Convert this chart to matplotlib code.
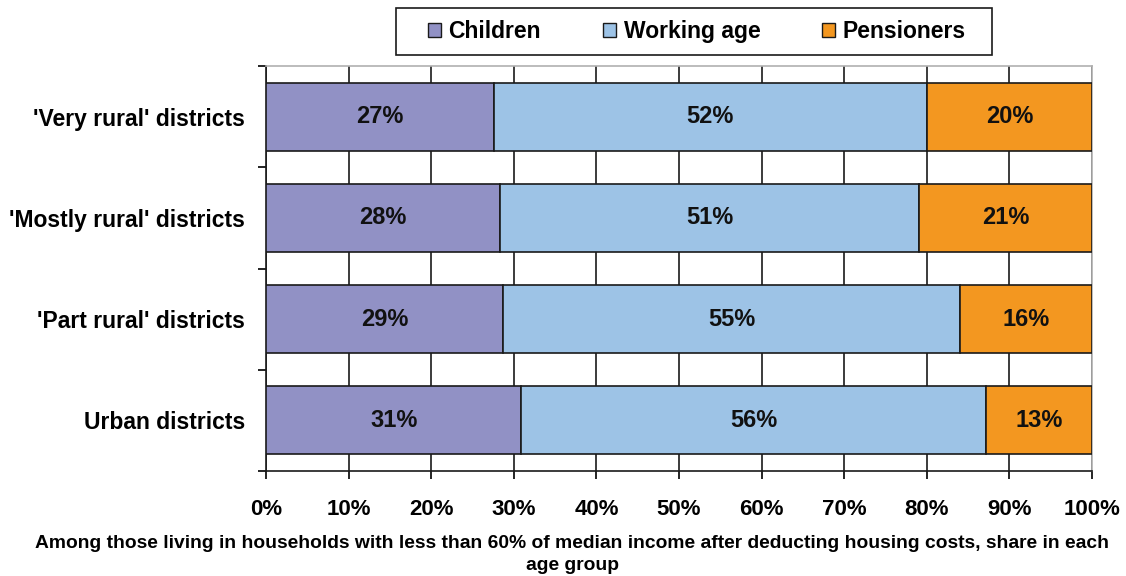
import numpy as np
import matplotlib
matplotlib.use("Agg")
import matplotlib.pyplot as plt
from matplotlib.patches import Patch, Rectangle

plt.rcParams["font.family"] = ["Liberation Sans", "DejaVu Sans"]
plt.rcParams["font.weight"] = "bold"

# ---------------------------------------------------------------------------
# Data (shares of low-income population by age group, %)
# ---------------------------------------------------------------------------
DISTRICTS = ["'Very rural' districts", "'Mostly rural' districts",
             "'Part rural' districts", "Urban districts"]
GROUPS = ["Children", "Working age", "Pensioners"]
CHILDREN = [27.6, 28.3, 28.7, 30.9]
WORKING = [52.4, 50.8, 55.3, 56.3]
PENSIONERS = [20.0, 20.9, 16.0, 12.8]
LABELS = [["27%", "28%", "29%", "31%"],
          ["52%", "51%", "55%", "56%"],
          ["20%", "21%", "16%", "13%"]]
XTICKS = [0, 10, 20, 30, 40, 50, 60, 70, 80, 90, 100]

COLORS = ["#9191C5", "#9DC3E6", "#F39720"]

fig = plt.figure(figsize=(11.26, 5.76), dpi=100)
ax = fig.add_axes([266 / 1126, 1 - 471 / 576, 826 / 1126, 405 / 576])

y = np.arange(len(DISTRICTS))
left = np.zeros(len(DISTRICTS))
for vals, col, labs in zip([CHILDREN, WORKING, PENSIONERS], COLORS, LABELS):
    vals = np.array(vals)
    ax.barh(y, vals, left=left, height=0.67, color=col,
            edgecolor="#1a1a1a", linewidth=1.2, zorder=3)
    for yi, l, v, t in zip(y, left, vals, labs):
        ax.text(l + v / 2, yi, t, ha="center", va="center",
                fontsize=17, fontweight="bold", color="#111111", zorder=4)
    left += vals

ax.set_xlim(0, 100)
ax.set_ylim(len(DISTRICTS) - 0.5, -0.5)

ax.set_xticks(XTICKS)
ax.set_xticklabels([f"{v}%" for v in XTICKS], fontsize=16, fontweight="bold")
ax.tick_params(axis="x", direction="out", length=6, width=1.2, pad=14)
ax.xaxis.grid(True, color="#1a1a1a", linewidth=1.2, zorder=0)
ax.set_axisbelow(True)

ax.set_yticks(np.arange(len(DISTRICTS) + 1) - 0.5)
ax.set_yticklabels([])
ax.tick_params(axis="y", which="major", direction="out", length=6, width=1.2)
ax.set_yticks(y, minor=True)
ax.set_yticklabels(DISTRICTS, minor=True, fontsize=16.5, fontweight="bold")
ax.tick_params(axis="y", which="minor", length=0, pad=15)

for s in ["left", "bottom"]:
    ax.spines[s].set_color("#1a1a1a")
    ax.spines[s].set_linewidth(1.2)
for s in ["top", "right"]:
    ax.spines[s].set_color("#b0b0b0")
    ax.spines[s].set_linewidth(1.2)

# legend box drawn separately so the wide side padding can be matched
fig.patches.append(Rectangle((396 / 1126, 1 - 55 / 576), 596 / 1126, 47 / 576,
                             transform=fig.transFigure, facecolor="white",
                             edgecolor="#1a1a1a", linewidth=1.2))
handles = [Patch(facecolor=c, edgecolor="#1a1a1a", linewidth=1) for c in COLORS]
leg = fig.legend(handles, GROUPS, loc="center", ncol=3,
                 bbox_to_anchor=(697 / 1126, 1 - 31.5 / 576),
                 prop={"size": 16.5, "weight": "bold"}, frameon=False,
                 handlelength=0.55, handleheight=0.55, handletextpad=0.35,
                 columnspacing=2.7, borderpad=0.2, borderaxespad=0)

fig.text(572 / 1126, 1 - 543 / 576,
         "Among those living in households with less than 60% of median income "
         "after deducting housing costs, share in each",
         ha="center", va="center", fontsize=13.9, fontweight="bold")
fig.text(572 / 1126, 1 - 566 / 576, "age group",
         ha="center", va="center", fontsize=13.9, fontweight="bold")

fig.savefig("out.png", dpi=100)
